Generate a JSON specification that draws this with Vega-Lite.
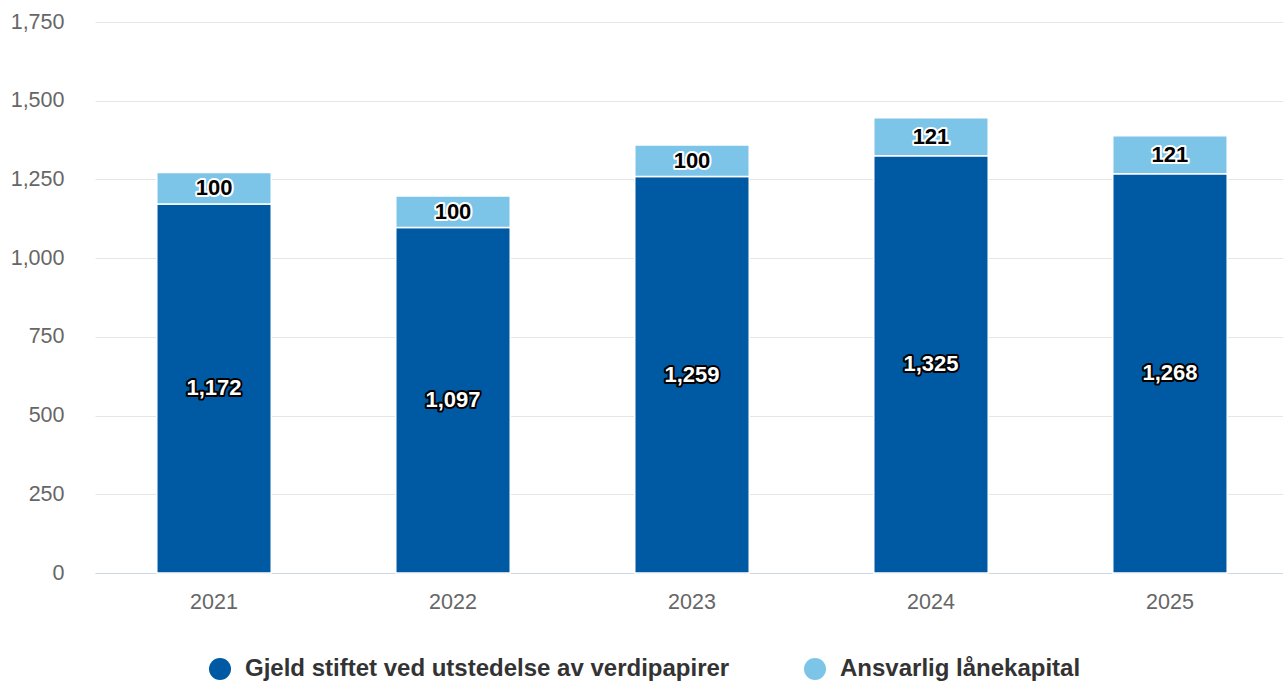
{
  "$schema": "https://vega.github.io/schema/vega-lite/v6.json",
  "autosize": {"type": "none"},
  "width": 1188,
  "height": 551,
  "padding": {"left": 95, "top": 22, "right": 0, "bottom": 111},
  "background": "#ffffff",
  "config": {
    "view": {"stroke": null},
    "font": "Liberation Sans",
    "axis": {"labelFont": "Liberation Sans", "labelColor": "#666666", "labelFontSize": 21.5, "title": null}
  },
  "data": {
    "values": [
      {"year": "2021", "series": "Gjeld stiftet ved utstedelse av verdipapirer", "order": 1, "value": 1172},
      {"year": "2021", "series": "Ansvarlig lånekapital", "order": 2, "value": 100},
      {"year": "2022", "series": "Gjeld stiftet ved utstedelse av verdipapirer", "order": 1, "value": 1097},
      {"year": "2022", "series": "Ansvarlig lånekapital", "order": 2, "value": 100},
      {"year": "2023", "series": "Gjeld stiftet ved utstedelse av verdipapirer", "order": 1, "value": 1259},
      {"year": "2023", "series": "Ansvarlig lånekapital", "order": 2, "value": 100},
      {"year": "2024", "series": "Gjeld stiftet ved utstedelse av verdipapirer", "order": 1, "value": 1325},
      {"year": "2024", "series": "Ansvarlig lånekapital", "order": 2, "value": 121},
      {"year": "2025", "series": "Gjeld stiftet ved utstedelse av verdipapirer", "order": 1, "value": 1268},
      {"year": "2025", "series": "Ansvarlig lånekapital", "order": 2, "value": 121}
    ]
  },
  "transform": [
    {"stack": "value", "groupby": ["year"], "sort": [{"field": "order", "order": "ascending"}], "as": ["v0", "v1"]},
    {"calculate": "(datum.v0 + datum.v1) / 2", "as": "mid"}
  ],
  "encoding": {
    "x": {
      "field": "year", "type": "ordinal",
      "scale": {"range": [0, 1194], "paddingInner": 0.521, "paddingOuter": 0.2585},
      "axis": {"labelAngle": 0, "ticks": false, "domain": true, "domainColor": "#ccd6eb", "domainWidth": 1, "labelPadding": 18, "grid": false}
    }
  },
  "layer": [
    {
      "mark": {"type": "bar", "stroke": "#ffffff", "strokeWidth": 1.5},
      "encoding": {
        "y": {
          "field": "v1", "type": "quantitative",
          "scale": {"domain": [0, 1750], "nice": false},
          "axis": {"values": [0, 250, 500, 750, 1000, 1250, 1500, 1750], "format": ",.0f", "ticks": false, "domain": false, "grid": true, "gridColor": "#e6e6e6", "gridWidth": 1, "labelPadding": 31}
        },
        "y2": {"field": "v0"},
        "color": {
          "field": "series", "type": "nominal",
          "scale": {"domain": ["Gjeld stiftet ved utstedelse av verdipapirer", "Ansvarlig lånekapital"], "range": ["#0059a3", "#7dc5e8"]},
          "legend": {
            "title": null, "orient": "none", "direction": "horizontal",
            "legendX": 113, "legendY": 635,
            "symbolType": "circle", "symbolSize": 484, "symbolStrokeWidth": 0,
            "labelFont": "Liberation Sans", "labelFontSize": 24, "labelFontWeight": "bold", "labelColor": "#333333",
            "labelOffset": 13, "columnPadding": 73, "labelLimit": 700
          }
        }
      }
    },
    {
      "mark": {"type": "text", "font": "Liberation Sans", "fontSize": 22, "fontWeight": "bold", "strokeWidth": 4, "strokeJoin": "round", "baseline": "middle", "align": "center"},
      "encoding": {
        "y": {"field": "mid", "type": "quantitative"},
        "text": {"field": "value", "type": "quantitative", "format": ",.0f"},
        "stroke": {"condition": {"test": "datum.order === 2", "value": "#ffffff"}, "value": "#000000"},
        "fill": {"condition": {"test": "datum.order === 2", "value": "#ffffff"}, "value": "#000000"}
      }
    },
    {
      "mark": {"type": "text", "font": "Liberation Sans", "fontSize": 22, "fontWeight": "bold", "baseline": "middle", "align": "center"},
      "encoding": {
        "y": {"field": "mid", "type": "quantitative"},
        "text": {"field": "value", "type": "quantitative", "format": ",.0f"},
        "fill": {"condition": {"test": "datum.order === 2", "value": "#000000"}, "value": "#ffffff"}
      }
    }
  ]
}
